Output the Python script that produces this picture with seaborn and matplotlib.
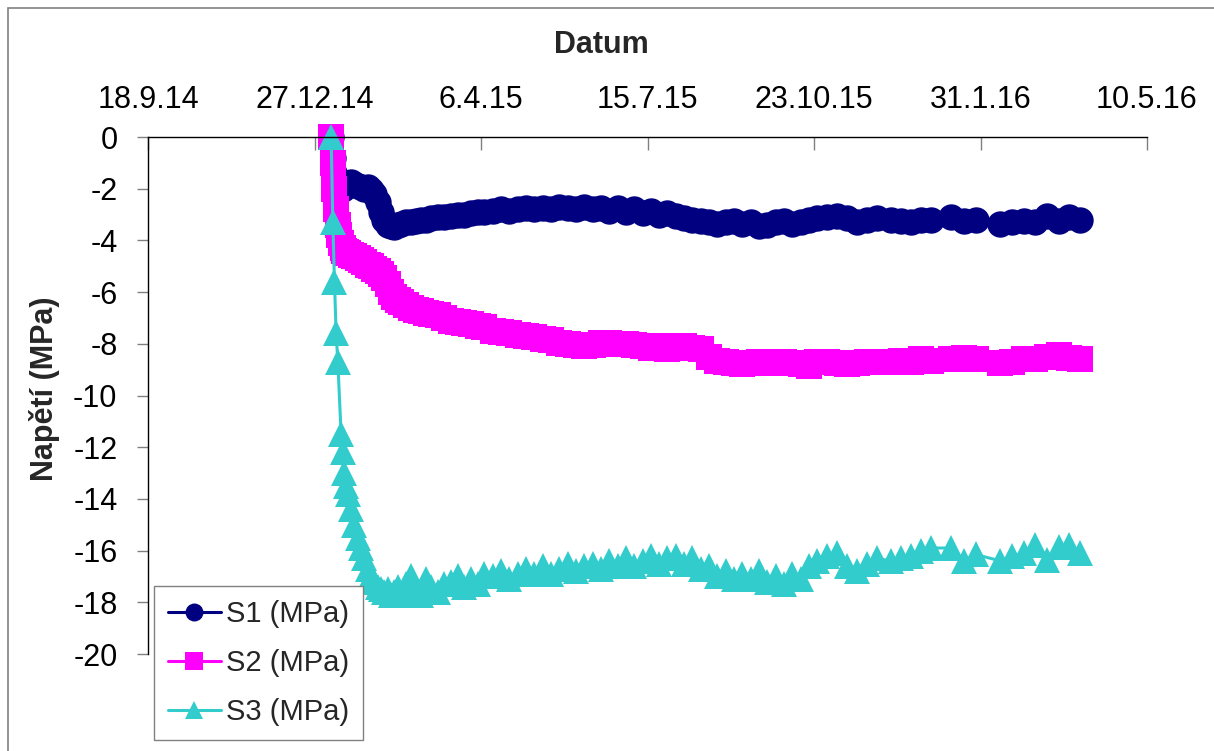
import numpy as np
import pandas as pd
import matplotlib
matplotlib.use('Agg')
import matplotlib.pyplot as plt
import seaborn as sns
from matplotlib.patches import Rectangle

# ---------------- data ----------------
base_date = '2014-09-18'
day_offsets = [110, 111, 112, 113, 114, 115, 116, 117, 118, 119,
               120, 122, 124, 126, 128, 130, 132, 134, 136, 138,
               140, 142, 144, 146, 148, 150, 152, 155, 158, 161,
               164, 167, 170, 174, 178, 182, 186, 190, 194, 198,
               202, 207, 212, 217, 222, 227, 232, 237, 242, 247,
               252, 257, 262, 267, 272, 277, 282, 287, 292, 297,
               302, 307, 312, 317, 322, 327, 332, 337, 342, 347,
               352, 357, 362, 367, 372, 377, 382, 387, 392, 397,
               402, 408, 414, 420, 426, 432, 438, 446, 452, 458,
               464, 470, 482, 490, 497, 512, 519, 526, 533, 540,
               547, 553, 560]

s1 = [0, -0.8, -1.4, -1.7, -1.8, -1.9, -1.95, -2.0, -1.9, -1.85,
      -1.8, -1.75, -1.8, -1.9, -1.95, -2.0, -1.95, -2.05, -2.2, -2.5,
      -2.9, -3.2, -3.4, -3.45, -3.5, -3.4, -3.35, -3.3, -3.3, -3.25,
      -3.2, -3.2, -3.15, -3.1, -3.1, -3.05, -3.0, -3.0, -2.95, -2.9,
      -2.9, -2.85, -2.8, -2.85, -2.8, -2.75, -2.8, -2.75, -2.8, -2.7,
      -2.75, -2.8, -2.7, -2.8, -2.75, -2.85, -2.75, -2.9, -2.8, -2.95,
      -2.85, -3.0, -2.95, -3.05, -3.15, -3.2, -3.25, -3.3, -3.35, -3.3,
      -3.25, -3.35, -3.3, -3.45, -3.4, -3.3, -3.25, -3.35, -3.3, -3.2,
      -3.15, -3.1, -3.05, -3.15, -3.3, -3.2, -3.15, -3.2, -3.25, -3.3,
      -3.2, -3.2, -3.1, -3.25, -3.2, -3.35, -3.3, -3.25, -3.3, -3.05,
      -3.25, -3.1, -3.2]

s2 = [0, -1.0, -2.0, -2.8, -3.4, -3.8, -4.1, -4.3, -4.4, -4.45,
      -4.5, -4.55, -4.6, -4.7, -4.75, -4.85, -4.95, -5.0, -5.1, -5.2,
      -5.3, -5.45, -5.7, -6.0, -6.2, -6.3, -6.4, -6.5, -6.6, -6.7,
      -6.75, -6.8, -6.85, -6.9, -7.0, -7.1, -7.15, -7.2, -7.25, -7.3,
      -7.35, -7.5, -7.55, -7.6, -7.65, -7.7, -7.75, -7.8, -7.85, -7.95,
      -8.0, -8.05, -8.1, -8.05, -7.95, -7.95, -8.0, -8.0, -8.05, -8.1,
      -8.15, -8.1, -8.2, -8.15, -8.1, -8.15, -8.2, -8.5, -8.65, -8.7,
      -8.75, -8.8, -8.75, -8.7, -8.7, -8.75, -8.7, -8.75, -8.8, -8.85,
      -8.7, -8.7, -8.75, -8.8, -8.75, -8.7, -8.7, -8.7, -8.65, -8.7,
      -8.6, -8.65, -8.6, -8.55, -8.6, -8.75, -8.7, -8.6, -8.6, -8.5,
      -8.45, -8.55, -8.6]

s3 = [0, -3.3, -5.6, -7.6, -8.7, np.nan, -11.5, -12.2, -13.0, -13.5,
      -13.8, -14.4, -15.0, -15.5, -15.9, -16.3, -16.7, -17.0, -17.2, -17.4,
      -17.5, -17.6, -17.5, -17.7, -17.6, -17.4, -17.7, -17.3, -17.0, -17.5,
      -17.7, -17.1, -17.4, -17.6, -17.3, -17.2, -17.0, -17.4, -17.1, -17.3,
      -16.9, -17.0, -16.8, -17.1, -16.9, -16.7, -16.9, -16.6, -16.9, -16.7,
      -16.5, -16.8, -16.6, -16.5, -16.7, -16.4, -16.6, -16.3, -16.6, -16.4,
      -16.2, -16.5, -16.3, -16.2, -16.5, -16.3, -16.7, -16.6, -17.0, -16.8,
      -17.1, -16.9, -17.1, -16.8, -17.2, -17.0, -17.3, -16.9, -17.1, -16.6,
      -16.4, -16.2, -16.1, -16.6, -16.8, -16.5, -16.3, -16.4, -16.3, -16.2,
      -16.0, -15.9, -15.9, -16.4, -16.15, -16.4, -16.2, -16.1, -15.8, -16.35,
      -15.85, -15.8, -16.1]

series_names = ['S1 (MPa)', 'S2 (MPa)', 'S3 (MPa)']
series_colors = ['#000080', '#FF00FF', '#33CCCC']
series_markers = ['o', 's', '^']
tick_labels = ['18.9.14', '27.12.14', '6.4.15', '15.7.15', '23.10.15', '31.1.16', '10.5.16']
y_ticks = [-20, -18, -16, -14, -12, -10, -8, -6, -4, -2, 0]
x_title = 'Datum'
y_title = 'Napětí (MPa)'

# ---------------- style ----------------
sns.set_style('white')
plt.rcParams['font.family'] = ['Liberation Sans', 'DejaVu Sans']
plt.rcParams['axes.unicode_minus'] = False

dates = pd.Timestamp(base_date) + pd.to_timedelta(day_offsets, unit='D')
df = pd.DataFrame({'date': dates, series_names[0]: s1,
                   series_names[1]: s2, series_names[2]: s3})
long = df.melt(id_vars='date', var_name='series', value_name='value').dropna()

W, H = 1214, 751
fig = plt.figure(figsize=(W / 100, H / 100), dpi=100)
ax = fig.add_axes([148 / W, 1 - 654 / H, 999 / W, 517 / H])

for name, color, marker in zip(series_names, series_colors, series_markers):
    sub = long[long['series'] == name]
    sns.lineplot(data=sub, x='date', y='value', ax=ax, color=color,
                 marker=marker, markersize=19, markeredgewidth=0,
                 linewidth=2.2, label=name, estimator=None, sort=False,
                 clip_on=False)

tick_dates = pd.to_datetime(tick_labels, format='%d.%m.%y')
ax.set_xlim(tick_dates[0], tick_dates[-1])
ax.set_ylim(-20, 0)
ax.xaxis.tick_top()
ax.set_xticks(tick_dates)
ax.set_xticklabels(tick_labels)
ax.set_yticks(y_ticks)
ax.set_yticklabels([str(v) for v in y_ticks])
ax.tick_params(axis='x', which='both', direction='in', length=9, width=1,
               color='#808080', pad=16, labelsize=22, top=True, bottom=False,
               labeltop=True, labelbottom=False, labelcolor='black')
ax.tick_params(axis='y', direction='out', length=8, width=1,
               color='#808080', pad=14, labelsize=22, left=True,
               labelcolor='black')
for side in ['right', 'bottom']:
    ax.spines[side].set_visible(False)
for side in ['top', 'left']:
    ax.spines[side].set_color('black')
    ax.spines[side].set_linewidth(1)
ax.grid(False)

ax.set_xlabel(x_title, fontsize=22, fontweight='bold')
ax.xaxis.set_label_position('top')
ax.xaxis.set_label_coords((601 - 148) / 999, (654 - 45) / 517)
ax.xaxis.label.set_va('center')
ax.set_ylabel(y_title, fontsize=22, fontweight='bold')
ax.yaxis.set_label_coords((45 - 148) / 999, (654 - 389) / 517)
ax.yaxis.label.set_va('center')

leg = ax.legend(loc='upper left', bbox_to_anchor=(154 / W, 1 - 586 / H),
                bbox_transform=fig.transFigure, frameon=True, fancybox=False,
                edgecolor='#808080', fontsize=21, handlelength=1.8,
                handletextpad=0.2, labelspacing=0.72, borderpad=0.48,
                borderaxespad=0, markerscale=0.68, framealpha=1)
leg.get_frame().set_linewidth(1)

fig.patches.append(Rectangle((8 / W, -0.05), 1.1, 1.05 - 8 / H,
                             transform=fig.transFigure, fill=False,
                             edgecolor='#808080', linewidth=1.2))

fig.savefig('out.png', dpi=100)
